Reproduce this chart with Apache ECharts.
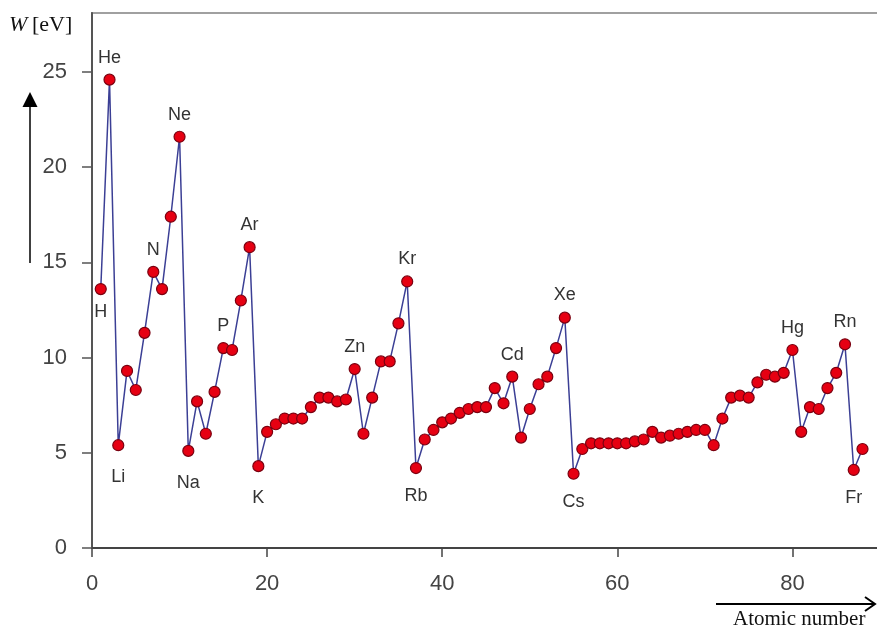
<!DOCTYPE html>
<html>
<head>
<meta charset="utf-8">
<script src="https://cdn.jsdelivr.net/npm/echarts@6/dist/echarts.min.js"></script>
<style>html,body{margin:0;padding:0;background:#fff}#c{width:877px;height:635px}</style>
</head>
<body>
<div id="c"></div>
<script>
// Atomic numbers (x) and first ionization energies W [eV] (y)
var atomicNumbers = [1,2,3,4,5,6,7,8,9,10,11,12,13,14,15,16,17,18,19,20,21,22,23,24,25,26,27,28,29,30,
  31,32,33,34,35,36,37,38,39,40,41,42,43,44,45,46,47,48,49,50,51,52,53,54,55,56,57,58,59,60,
  61,62,63,64,65,66,67,68,69,70,71,72,73,74,75,76,77,78,79,80,81,82,83,84,85,86,87,88];
var energies = [13.6,24.6,5.4,9.3,8.3,11.3,14.5,13.6,17.4,21.6,5.1,7.7,6.0,8.2,10.5,10.4,13.0,15.8,4.3,6.1,
  6.5,6.8,6.8,6.8,7.4,7.9,7.9,7.7,7.8,9.4,
  6.0,7.9,9.8,9.8,11.8,14.0,4.2,5.7,6.2,6.6,6.8,7.1,7.3,7.4,7.4,8.4,7.6,9.0,5.8,7.3,
  8.6,9.0,10.5,12.1,3.9,5.2,5.5,5.5,5.5,5.5,
  5.5,5.6,5.7,6.1,5.8,5.9,6.0,6.1,6.2,6.2,5.4,6.8,7.9,8.0,7.9,8.7,9.1,9.0,9.2,10.4,
  6.1,7.4,7.3,8.4,9.2,10.7,4.1,5.2];
// Element labels shown on the chart
var labelZ = [1,2,3,7,10,11,15,18,19,30,36,37,48,54,55,80,86,87];
var labelNames = ['H','He','Li','N','Ne','Na','P','Ar','K','Zn','Kr','Rb','Cd','Xe','Cs','Hg','Rn','Fr'];
var xTicks = [0,20,40,60,80];
var yTicks = [0,5,10,15,20,25];

// label placement (style, not data)
var below = {H:8, Li:17, Na:17, K:17, Rb:13, Cs:13, Fr:13};

var seriesData = atomicNumbers.map(function(z, i){
  var item = {value:[z, energies[i]]};
  var li = labelZ.indexOf(z);
  if (li >= 0) {
    var nm = labelNames[li];
    var isBelow = below.hasOwnProperty(nm);
    item.label = {show:true, formatter:nm, position:isBelow?'bottom':'top', distance:isBelow?below[nm]:7};
  }
  return item;
});

var chart = echarts.init(document.getElementById('c'));
chart.setOption({
  animation:false,
  grid:{left:92, top:13, width:788, bottom:87, outerBoundsMode:'none', containLabel:false,
    show:true, borderColor:'#a0a0a0', borderWidth:2, backgroundColor:'transparent'},
  xAxis:{type:'value', min:0, max:90, interval:20,
    axisLine:{show:true, onZero:false, lineStyle:{color:'#444', width:2}},
    axisTick:{show:true, inside:false, length:9, customValues:xTicks, lineStyle:{color:'#444', width:1.5}},
    axisLabel:{margin:25, color:'#444', fontSize:22, fontFamily:'Liberation Sans, Arial, sans-serif', customValues:xTicks},
    splitLine:{show:false}},
  yAxis:{type:'value', min:0, max:28.1,
    axisLine:{show:true, onZero:false, lineStyle:{color:'#555', width:2}},
    axisTick:{show:true, inside:false, length:10, customValues:yTicks, lineStyle:{color:'#555', width:1.5}},
    axisLabel:{margin:25, color:'#444', fontSize:22, fontFamily:'Liberation Sans, Arial, sans-serif', customValues:yTicks},
    splitLine:{show:false}},
  series:[{
    type:'line', data:seriesData, symbol:'circle', symbolSize:11,
    lineStyle:{color:'#3b3f95', width:1.5},
    itemStyle:{color:'#e60012', borderColor:'#7a0010', borderWidth:1.2},
    label:{color:'#333', fontSize:18, fontFamily:'Liberation Sans, Arial, sans-serif'},
    z:3
  }],
  graphic:[
    {type:'text', left:9, top:14, style:{text:'W', font:'italic 22px "Liberation Serif", "Times New Roman", serif', fill:'#111'}},
    {type:'text', left:32, top:14, style:{text:'[eV]', font:'22px "Liberation Serif", "Times New Roman", serif', fill:'#111'}},
    {type:'line', shape:{x1:30, y1:263, x2:30, y2:104}, style:{stroke:'#000', lineWidth:1.5}},
    {type:'polygon', shape:{points:[[30,92],[22.5,107],[37.5,107]]}, style:{fill:'#000'}},
    {type:'line', shape:{x1:716, y1:604, x2:875, y2:604}, style:{stroke:'#000', lineWidth:2}},
    {type:'polyline', shape:{points:[[865,597],[875,604],[865,611]]}, style:{stroke:'#000', lineWidth:2, fill:null}},
    {type:'text', left:733, top:609, style:{text:'Atomic number', font:'21px "Liberation Serif", "Times New Roman", serif', fill:'#111'}}
  ]
});
</script>
</body>
</html>
